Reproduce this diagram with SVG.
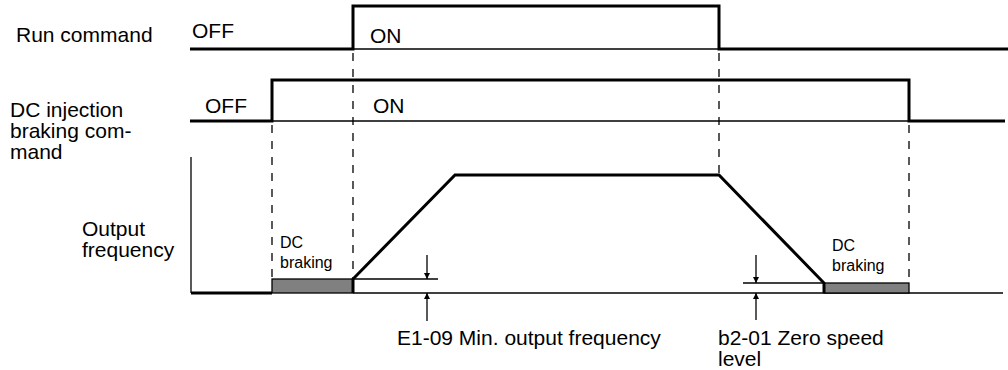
<svg xmlns="http://www.w3.org/2000/svg" width="1008" height="370" viewBox="0 0 1008 370">
<defs>
<style>
text{font-family:"Liberation Sans",Arial,sans-serif;fill:#000}
.lbl{font-size:21px}
.sm{font-size:16px}
.thick{fill:none;stroke:#000;stroke-width:3}
.thin{fill:none;stroke:#000;stroke-width:1.3}
.dash{fill:none;stroke:#000;stroke-width:1.3;stroke-dasharray:8 8}
.brk{fill:#808080;stroke:#000;stroke-width:1.3}
</style>
<marker id="ah" viewBox="0 0 10 10" refX="10" refY="5" markerWidth="6" markerHeight="16" markerUnits="userSpaceOnUse" orient="auto">
<path d="M0,0 L10,5 L0,10 z" fill="#000"/>
</marker>
</defs>
<rect width="1008" height="370" fill="#fff"/>
<g id="labels">
<text class="lbl" x="16" y="42">Run command</text>
<text class="lbl" x="10" y="117">DC injection</text>
<text class="lbl" x="10" y="138">braking com-</text>
<text class="lbl" x="10" y="159">mand</text>
<text class="lbl" x="82" y="236">Output</text>
<text class="lbl" x="82" y="257">frequency</text>
</g>
<g id="run-command">
<path class="thick" d="M190,49 H353 V6 H719 V49 H1008"/>
<path class="thin" d="M353,49 H719"/>
<text class="lbl" x="192" y="38">OFF</text>
<text class="lbl" x="370" y="43">ON</text>
</g>
<g id="dc-command">
<path class="thick" d="M190,121 H272 V80 H909 V121 H1005"/>
<path class="thin" d="M272,121 H909"/>
<text class="lbl" x="205" y="113">OFF</text>
<text class="lbl" x="373" y="113">ON</text>
</g>
<g id="output-frequency">
<path class="thin" d="M191,157 V293"/>
<path class="thin" d="M353,293 H1003"/>
<rect class="brk" x="272" y="279" width="81" height="14"/>
<rect class="brk" x="824" y="283" width="85" height="10"/>
<path class="thick" d="M191,293 H272"/>
<path class="thick" d="M353,293 V279 L455,175 H719 L824,283 V293"/>
<text class="sm" x="280" y="248">DC</text>
<text class="sm" x="280" y="268">braking</text>
<text class="sm" x="832" y="251">DC</text>
<text class="sm" x="832" y="271">braking</text>
</g>
<g id="connectors">
<path class="dash" d="M272,125 V279"/>
<path class="dash" d="M353,53 V279"/>
<path class="dash" d="M719,53 V175"/>
<path class="dash" d="M909,125 V283"/>
<path class="thin" d="M353,279 H438"/>
<path class="thin" d="M743,283 H824"/>
<path class="thin" d="M427,255 V279" marker-end="url(#ah)"/>
<path class="thin" d="M427,321 V293" marker-end="url(#ah)"/>
<path class="thin" d="M756,255 V283" marker-end="url(#ah)"/>
<path class="thin" d="M756,320 V293" marker-end="url(#ah)"/>
</g>
<g id="annotations">
<text class="lbl" x="397" y="345">E1-09 Min. output frequency</text>
<text class="lbl" x="718" y="345">b2-01 Zero speed</text>
<text class="lbl" x="718" y="366">level</text>
</g>
</svg>
